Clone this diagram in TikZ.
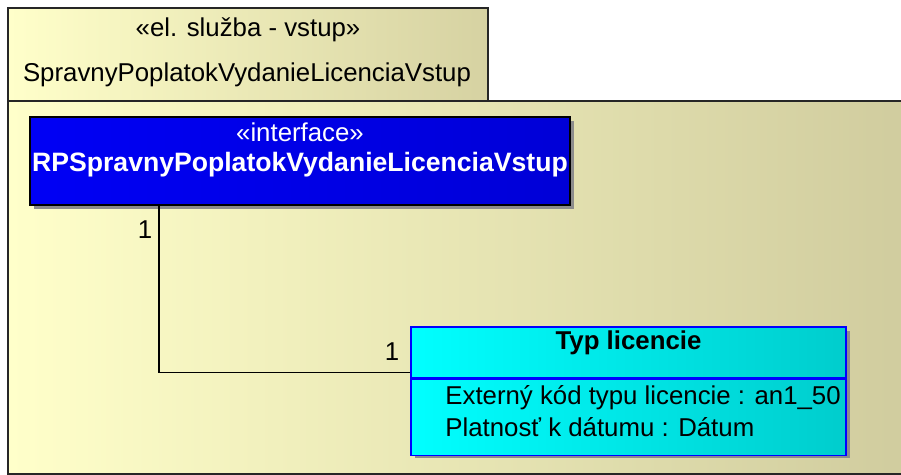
\documentclass[tikz,border=0pt]{standalone}
\usepackage{fontspec}
\setmainfont{Liberation Sans}
\usetikzlibrary{positioning,shadows}

\definecolor{pkgL}{RGB}{255,255,202}
\definecolor{pkgR}{RGB}{208,204,158}
\definecolor{tabR}{RGB}{214,210,162}
\definecolor{ifL}{RGB}{0,0,245}
\definecolor{ifR}{RGB}{0,0,215}
\definecolor{clsL}{RGB}{0,255,255}
\definecolor{clsR}{RGB}{0,205,205}

\begin{document}
\begin{tikzpicture}[
  x=0.5pt, y=-0.5pt,
  font=\fontsize{12.9}{15}\selectfont,
  pkgbox/.style={draw=black!85, line width=0.9pt, left color=pkgL, right color=pkgR},
  ifacebox/.style={draw=black, line width=0.7pt, left color=ifL, right color=ifR, minimum width=270pt, minimum height=44pt, inner sep=0pt, drop shadow={shadow xshift=2pt, shadow yshift=-2pt, fill=black!45, opacity=1}},
  clsbox/.style={draw=blue, line width=0.6pt, left color=clsL, right color=clsR, minimum width=217.5pt, inner sep=0pt},
  txt/.style={inner sep=0pt, text=black},
  mult/.style={inner sep=0pt, text=black}
]
\useasboundingbox (0,0) rectangle (901,475);

% package frame
\draw[pkgbox] (8,101) rectangle (910,474);
\draw[pkgbox, right color=tabR] (8,8) rectangle (488,101);
\node[txt] (pkgstereo) at (248,30) {«el. služba - vstup»};
\node[txt] (pkgname) at (247,75) {SpravnyPoplatokVydanieLicenciaVstup};

% interface
\node[ifacebox] (iface) at (300,161) {};
\node[txt, text=white] (ifstereo) at (300,132) {«interface»};
\node[txt, text=white, font=\fontsize{13.3}{15}\selectfont\bfseries] (ifname) at (300,165) {RPSpravnyPoplatokVydanieLicenciaVstup};

% class
\fill[black!45] (415,331) rectangle (850,458);
\node[clsbox, minimum height=25.5pt] (typhead) at (628.5,352.5) {};
\node[clsbox, minimum height=38pt, below=0pt of typhead] (typattr) {};
\node[txt, font=\fontsize{12.9}{15}\selectfont\bfseries] (typname) at (628.5,343) {Typ licencie};
\node[txt, anchor=west] (attr1) at (445,398) {Externý kód typu licencie : an1\_50};
\node[txt, anchor=west] (attr2) at (445,427) {Platnosť k dátumu : Dátum};

% association
\draw[line width=0.8pt] ([xshift=-70.5pt]iface.south) |- ([yshift=3pt]typhead.south west);
\node[mult] (multA) at (145,230) {1};
\node[mult] (multB) at (392,352) {1};
\end{tikzpicture}
\end{document}
